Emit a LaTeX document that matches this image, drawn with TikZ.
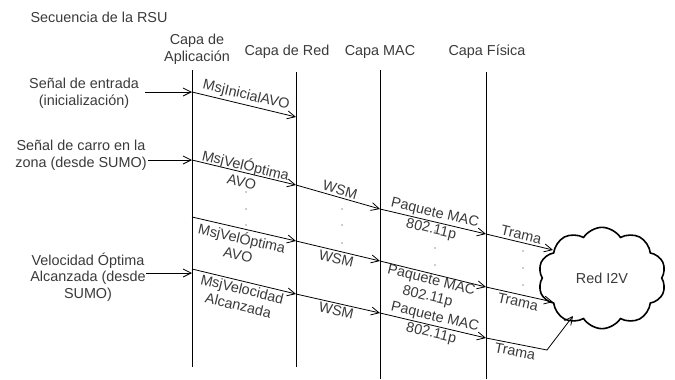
\documentclass[tikz,border=0pt]{standalone}
\usepackage{fontspec}
\setmainfont{Liberation Sans}
\usetikzlibrary{arrows.meta, shapes.symbols}
\definecolor{inkgray}{HTML}{3A3A3A}
\definecolor{dotgray}{HTML}{9A9A9A}
\tikzset{
    txt/.style = {font=\fontsize{10.8}{12.5}\selectfont, align=center, inner sep=1pt, text=inkgray},
    lifeline/.style = {line width=0.6pt, color=black},
    msg/.style = {-{Straight Barb[length=6pt,width=6pt]}, line width=0.6pt, color=black},
    lbl/.style = {txt, sloped, inner sep=1.5pt},
    dotmark/.style = {circle, fill=dotgray, inner sep=0pt, minimum size=1.3pt},
}

\begin{document}
\begin{tikzpicture}[x=0.75pt,y=0.75pt]
        \useasboundingbox (0,0) rectangle (675,-379);
        % title
        \node[txt, anchor=west] (titulo) at (29,-17) {Secuencia de la RSU};
        % layer headers
        \node[txt] (hApp) at (197,-49) {Capa de\\Aplicación};
        \node[txt] (hRed) at (287,-52) {Capa de Red};
        \node[txt] (hMac) at (380,-52) {Capa MAC};
        \node[txt] (hFis) at (487,-52) {Capa Física};
        % lifelines
        \coordinate (appT) at (192,-70); \coordinate (appB) at (192,-367);
        \coordinate (redT) at (296,-72); \coordinate (redB) at (296,-367);
        \coordinate (macT) at (380,-70); \coordinate (macB) at (380,-379);
        \coordinate (fisT) at (486,-72); \coordinate (fisB) at (486,-379);
        \draw[lifeline] (appT) -- (appB);
        \draw[lifeline] (redT) -- (redB);
        \draw[lifeline] (macT) -- (macB);
        \draw[lifeline] (fisT) -- (fisB);
        % network cloud
        \node[cloud, draw, line width=1.2pt, cloud puffs=10, cloud puff arc=115, aspect=1.2,
              minimum width=96pt, minimum height=76pt, txt] (nube) at (602,-278) {Red I2V};
        % message points
        \coordinate (a1) at (192,-92); \coordinate (r1) at (296,-117);
        \foreach \n/\ya/\yr/\ym/\yf in {2/160/185/209/234, 3/217/241/261/287, 4/269/294/313/338} {
          \coordinate (a\n) at (192,-\ya);
          \coordinate (r\n) at (296,-\yr);
          \coordinate (m\n) at (380,-\ym);
          \coordinate (f\n) at (486,-\yf);
        }
        \coordinate (t2) at (553,-250);
        \coordinate (t3) at (553,-302);
        \coordinate (k4) at (547,-350);
        \coordinate (t4) at (573,-316);
        % inputs
        \node[txt] (in1) at (84,-93) {Señal de entrada\\(inicialización)};
        \node[txt] (in2) at (81,-155) {Señal de carro en la\\zona (desde SUMO)};
        \node[txt] (in3) at (88,-277) {Velocidad Óptima\\Alcanzada (desde\\SUMO)};
        \coordinate (s1) at (145,-92);
        \coordinate (s2) at (148,-160);
        \coordinate (s3) at (146,-273);
        \draw[msg] (s1) -- (a1);
        \draw[msg] (s2) -- (a2);
        \draw[msg] (s3) -- (appB |- s3);
        % initial message
        \draw[msg] (a1) -- node[lbl, above] {MsjInicialAVO} (r1);
        % first speed message
        \draw[msg] (a2) -- node[lbl] {MsjVelÓptima\\AVO} (r2);
        \draw[msg] (r2) -- node[lbl, above] {WSM} (m2);
        \draw[msg] (m2) -- node[lbl] {Paquete MAC\\802.11p} (f2);
        \draw[msg] (f2) -- node[lbl, above] {Trama} (t2);
        % repeated speed message
        \draw[msg] (a3) -- node[lbl, below] {MsjVelÓptima\\AVO} (r3);
        \draw[msg] (r3) -- node[lbl, below] {WSM} (m3);
        \draw[msg] (m3) -- node[lbl, below, inner sep=0pt] {Paquete MAC\\802.11p} (f3);
        \draw[msg] (f3) -- node[lbl, below] {Trama} (t3);
        % speed reached
        \draw[msg] (a4) -- node[lbl, below] {MsjVelocidad\\Alcanzada} (r4);
        \draw[msg] (r4) -- node[lbl, below] {WSM} (m4);
        \draw[msg] (m4) -- node[lbl] {Paquete MAC\\802.11p} (f4);
        \draw[msg] (f4) -- node[lbl, below] {Trama} (k4) -- (t4);
        % dotted continuation
        \foreach \x/\ys in {246/{192,209,225}, 342/{209,225,243}, 435/{231,248,265}, 523/{251,268,285}} {
          \foreach \y in \ys { \node[dotmark] at (\x,-\y) {}; }
        }
      \end{tikzpicture}
\end{document}
